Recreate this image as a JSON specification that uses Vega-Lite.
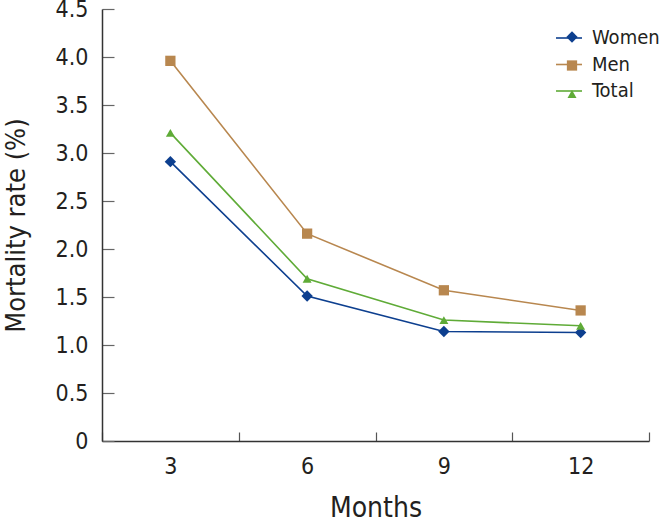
{
  "$schema": "https://vega.github.io/schema/vega-lite/v6.json",
  "width": 547,
  "height": 432,
  "autosize": "none",
  "padding": {"left": 102, "top": 9, "right": 11, "bottom": 81},
  "config": {
    "view": {"stroke": null},
    "font": "Liberation Sans Narrow, DejaVu Sans Condensed, sans-serif",
    "axis": {"grid": false, "domainColor": "#333333", "domainWidth": 1.5, "labelColor": "#231f20", "titleColor": "#231f20", "labelFont": "Liberation Sans Narrow, DejaVu Sans Condensed, sans-serif", "titleFont": "Liberation Sans Narrow, DejaVu Sans Condensed, sans-serif", "titleFontWeight": "normal"},
    "legend": {"labelFont": "Liberation Sans Narrow, DejaVu Sans Condensed, sans-serif"}
  },
  "data": {
    "values": [
      {"month": 3, "group": "Women", "rate": 2.91},
      {"month": 6, "group": "Women", "rate": 1.51},
      {"month": 9, "group": "Women", "rate": 1.14},
      {"month": 12, "group": "Women", "rate": 1.13},
      {"month": 3, "group": "Men", "rate": 3.96},
      {"month": 6, "group": "Men", "rate": 2.16},
      {"month": 9, "group": "Men", "rate": 1.57},
      {"month": 12, "group": "Men", "rate": 1.36},
      {"month": 3, "group": "Total", "rate": 3.21},
      {"month": 6, "group": "Total", "rate": 1.69},
      {"month": 9, "group": "Total", "rate": 1.26},
      {"month": 12, "group": "Total", "rate": 1.2}
    ]
  },
  "encoding": {
    "x": {
      "field": "month", "type": "ordinal", "sort": [3, 6, 9, 12],
      "scale": {"type": "band", "paddingInner": 0, "paddingOuter": 0},
      "axis": {"title": "Months", "labelAngle": 0, "tickBand": "extent", "tickSize": -9, "tickColor": "#555555", "tickWidth": 1.2, "labelFontSize": 23, "labelPadding": 23, "titleFontSize": 28, "titlePadding": 16}
    },
    "y": {
      "field": "rate", "type": "quantitative",
      "scale": {"domain": [0, 4.5], "nice": false},
      "axis": {"title": "Mortality rate (%)", "values": [0, 0.5, 1, 1.5, 2, 2.5, 3, 3.5, 4, 4.5], "labelExpr": "datum.value == 0 ? '0' : format(datum.value, '.1f')", "tickSize": -12, "tickColor": "#666666", "tickWidth": 1.2, "labelFontSize": 23, "labelPadding": 26, "titleFontSize": 27, "titlePadding": 25}
    }
  },
  "layer": [
    {
      "mark": {"type": "line", "strokeWidth": 1.6},
      "encoding": {
        "stroke": {
          "field": "group", "type": "nominal",
          "scale": {"domain": ["Women", "Men", "Total"], "range": ["#0d3f8f", "#b8874f", "#5fab37"]},
          "legend": {"title": null, "orient": "none", "legendX": 453, "legendY": 15, "symbolType": "stroke", "symbolSize": 676, "symbolStrokeWidth": 1.6, "labelFontSize": 20, "labelColor": "#231f20", "labelOffset": 9, "rowPadding": 2.5, "padding": 0, "labelLimit": 200}
        }
      }
    },
    {
      "mark": {"type": "point", "filled": true, "opacity": 1, "strokeWidth": 0},
      "encoding": {
        "fill": {
          "field": "group", "type": "nominal",
          "scale": {"domain": ["Women", "Men", "Total"], "range": ["#0d3f8f", "#b8874f", "#5fab37"]},
          "legend": {"title": null, "orient": "none", "legendX": 460, "legendY": 18, "symbolStrokeWidth": 0, "labelFontSize": 20, "labelOpacity": 0, "labelOffset": 9, "rowPadding": 8.5, "padding": 0}
        },
        "shape": {
          "field": "group", "type": "nominal",
          "scale": {"domain": ["Women", "Men", "Total"], "range": ["diamond", "square", "triangle-up"]},
          "legend": {"title": null, "orient": "none", "legendX": 460, "legendY": 18, "symbolStrokeWidth": 0, "labelFontSize": 20, "labelOpacity": 0, "labelOffset": 9, "rowPadding": 8.5, "padding": 0}
        },
        "size": {
          "field": "group", "type": "nominal",
          "scale": {"domain": ["Women", "Men", "Total"], "range": [130, 81, 90]},
          "legend": {"title": null, "orient": "none", "legendX": 460, "legendY": 18, "symbolStrokeWidth": 0, "labelFontSize": 20, "labelOpacity": 0, "labelOffset": 9, "rowPadding": 8.5, "padding": 0}
        }
      }
    }
  ],
  "resolve": {"legend": {"stroke": "independent"}}
}
